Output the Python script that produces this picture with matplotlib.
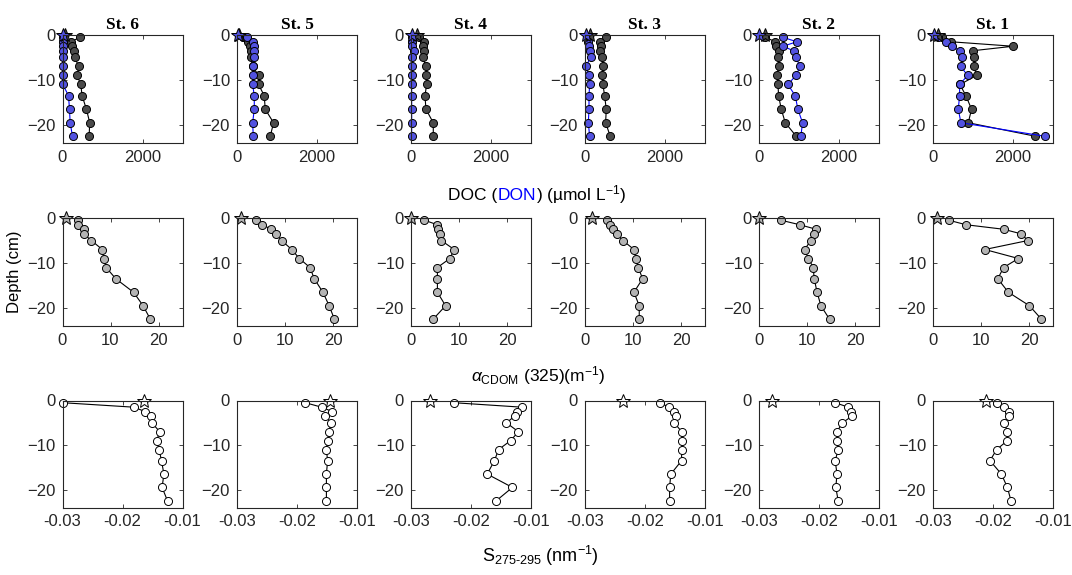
import matplotlib
matplotlib.use("Agg")
import matplotlib.pyplot as plt

plt.rcParams["font.family"] = ["Liberation Sans", "DejaVu Sans"]
plt.rcParams["mathtext.fontset"] = "custom"
plt.rcParams["mathtext.rm"] = "Liberation Sans"
plt.rcParams["mathtext.it"] = "Liberation Sans:italic"

stations = ["St. 6", "St. 5", "St. 4", "St. 3", "St. 2", "St. 1"]
depth = [-0.5, -1.5, -2.5, -3.5, -5, -7, -9, -11, -13.5, -16.5, -19.5, -22.5]

# DOC / DON (umol/L), one list per station
doc = [
    [432, 224, 249, 283, 307, 407, 366, 457, 490, 598, 681, 665],
    [150, 266, 324, 349, 349, 391, 540, 540, 681, 706, 914, 831],
    [208, 332, 307, 332, 291, 374, 374, 391, 349, 374, 557, 557],
    [532, 382, 399, 382, 424, 449, 432, 449, 490, 532, 515, 632],
    [158, 407, 432, 490, 474, 490, 449, 474, 490, 557, 657, 931],
    [216, 440, 2003, 989, 1030, 1022, 1089, 673, 823, 964, 881, 2560],
]
don = [
    [10, 10, 10, 10, 10, 10, 10, 10, 150, 175, 191, 250],
    [250, 391, 416, 416, 416, 391, 391, 391, 432, 432, 391, 407],
    [20, 33, 33, 83, 17, 17, 33, 17, 17, 17, 17, 17],
    [100, 75, 100, 116, 141, 17, 91, 116, 100, 100, 83, 116],
    [590, 947, 598, 864, 922, 1030, 922, 723, 906, 972, 1088, 1047],
    [133, 324, 482, 665, 731, 698, 864, 665, 665, 632, 698, 2792],
]
doc_surf = [50, 60, 158, 116, 158, 116]
don_surf = [17, 17, 17, 17, 0, 17]

# a_CDOM(325) (1/m)
acdom = [
    [3.2, 3.3, 4.4, 4.4, 6.0, 8.3, 8.6, 9.1, 11.1, 14.8, 16.8, 18.3],
    [4.0, 5.3, 7.1, 8.1, 9.3, 11.4, 13.0, 15.2, 16.1, 17.9, 19.2, 20.3],
    [2.8, 5.5, 5.7, 6.1, 6.3, 9.0, 8.1, 5.5, 5.5, 5.5, 7.2, 4.6],
    [4.5, 5.2, 5.9, 6.6, 7.9, 10.2, 10.6, 11.1, 12.0, 10.2, 11.3, 11.3],
    [4.6, 8.5, 11.9, 11.4, 10.8, 9.5, 10.3, 11.3, 11.5, 12.1, 12.9, 14.7],
    [3.3, 6.9, 14.7, 18.3, 19.8, 10.8, 17.8, 14.7, 13.5, 15.7, 20.1, 22.6],
]
acdom_surf = [0.8, 0.9, 0.1, 1.4, 0.1, 0.9]

# S275-295 (1/nm)
slope = [
    [-0.0299, -0.0181, -0.0162, -0.0152, -0.0151, -0.0138, -0.0143, -0.0139, -0.0135, -0.0131, -0.0134, -0.0125],
    [-0.0186, -0.0159, -0.0141, -0.0153, -0.0143, -0.0147, -0.0149, -0.0151, -0.0149, -0.0151, -0.0151, -0.0151],
    [-0.0228, -0.0115, -0.0123, -0.0127, -0.0141, -0.0121, -0.0134, -0.0154, -0.0161, -0.0173, -0.0131, -0.0158],
    [-0.0175, -0.0160, -0.0151, -0.0149, -0.0151, -0.0139, -0.0139, -0.0139, -0.0139, -0.0157, -0.0159, -0.0159],
    [-0.0173, -0.0151, -0.0147, -0.0145, -0.0161, -0.0170, -0.0170, -0.0168, -0.0173, -0.0170, -0.0172, -0.0168],
    [-0.0194, -0.0182, -0.0173, -0.0173, -0.0181, -0.0176, -0.0176, -0.0194, -0.0205, -0.0186, -0.0176, -0.0170],
]
slope_surf = [-0.0165, -0.0145, -0.0268, -0.0236, -0.0278, -0.0212]

W, H = 1072, 575
fig = plt.figure(figsize=(W / 100, H / 100), dpi=100)

lefts = [62.5, 237, 411, 585, 759, 933]
rows = [(35, 143), (218, 326), (400.5, 507.5)]
axcol = "#262626"


def make_ax(left, top, bottom):
    ax = fig.add_axes([left / W, 1 - bottom / H, 120 / W, (bottom - top) / H])
    for s in ax.spines.values():
        s.set_color(axcol)
        s.set_linewidth(0.8)
    ax.tick_params(direction="in", top=True, right=True, length=3, width=0.6,
                   labelsize=12, colors=axcol, pad=5)
    ax.set_ylim(-24, 0)
    ax.set_yticks([-20, -10, 0])
    return ax


circ = dict(marker="o", ms=5.8, mec="black", mew=0.7, lw=0.8, clip_on=False)
star = dict(marker="*", ms=10, mec="black", mew=0.7, ls="none", clip_on=False)

for i in range(6):
    # DOC / DON
    ax = make_ax(lefts[i], *rows[0])
    ax.plot(doc[i], depth, color="black", mfc="#4a4a4a", **circ)
    ax.plot(don[i], depth, color="blue", mfc="#5252e0", **circ)
    ax.plot([doc_surf[i]], [0], mfc="#4a4a4a", **star)
    ax.plot([don_surf[i]], [0], mfc="#5252e0", **star)
    ax.set_xlim(0, 3000)
    ax.set_xticks([0, 2000])
    ax.set_title(stations[i], fontfamily="Liberation Serif", fontweight="bold",
                 fontsize=12.5, pad=4)

    # aCDOM
    ax = make_ax(lefts[i], *rows[1])
    ax.plot(acdom[i], depth, color="black", mfc="#b4b4b4", **circ)
    ax.plot([acdom_surf[i]], [0], mfc="#b4b4b4", **star)
    ax.set_xlim(0, 25)
    ax.set_xticks([0, 10, 20])
    if i == 0:
        ax.set_ylabel("Depth (cm)", fontsize=12, labelpad=4)

    # slope
    ax = make_ax(lefts[i], *rows[2])
    ax.plot(slope[i], depth, color="black", mfc="white", **circ)
    ax.plot([slope_surf[i]], [0], mfc="white", **star)
    ax.set_xlim(-0.03, -0.01)
    ax.set_xticks([-0.03, -0.02, -0.01])
    ax.set_xticklabels(["-0.03", "-0.02", "-0.01"])

# DOC (DON) label with DON in blue
t1 = fig.text(448 / W, 1 - 200 / H, "DOC (", fontsize=12.5, color="black", va="baseline")
t2 = fig.text(0, 0, "DON", fontsize=12.5, color="blue", va="baseline")
t3 = fig.text(0, 0, r") (µmol L$^{-1}$)", fontsize=12.5, color="black", va="baseline")
fig.canvas.draw()
r = fig.canvas.get_renderer()
x = t1.get_window_extent(r).x1
t2.set_position((x / W, 1 - 200 / H))
fig.canvas.draw()
x = t2.get_window_extent(r).x1
t3.set_position((x / W, 1 - 200 / H))

fig.text(538 / W, 1 - 376 / H, r"$\alpha_{\mathrm{CDOM}}$ (325)(m$^{-1}$)",
         fontsize=12.5, ha="center", va="center")
fig.text(540 / W, 1 - 556 / H, r"S$_{\mathrm{275\text{-}295}}$ (nm$^{-1}$)",
         fontsize=13, ha="center", va="center")

fig.savefig("out.png", dpi=100)
